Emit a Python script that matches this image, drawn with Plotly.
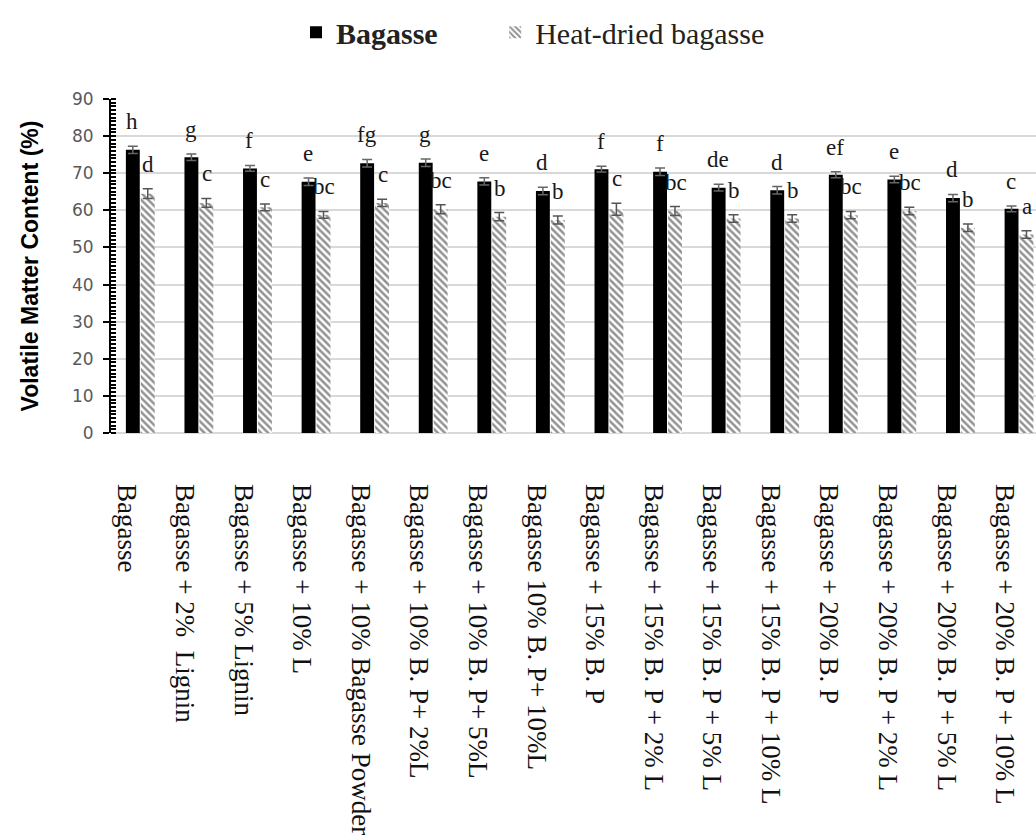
import plotly.graph_objects as go

# Treatments (x categories)
categories = [
    "Bagasse",
    "Bagasse + 2%  Lignin",
    "Bagasse + 5% Lignin",
    "Bagasse + 10% L",
    "Bagasse + 10% Bagasse Powder",
    "Bagasse + 10% B. P+ 2%L",
    "Bagasse + 10% B. P+ 5%L",
    "Bagasse 10% B. P+ 10%L",
    "Bagasse + 15% B. P",
    "Bagasse + 15% B. P + 2% L",
    "Bagasse + 15% B. P + 5% L",
    "Bagasse + 15% B. P + 10% L",
    "Bagasse + 20% B. P",
    "Bagasse + 20% B. P + 2% L",
    "Bagasse + 20% B. P + 5% L",
    "Bagasse + 20% B. P + 10% L",
]

# Volatile matter content (%) and standard errors
bagasse = [76.3, 74.3, 71.3, 67.7, 72.7, 72.8, 67.8, 65.2,
           71.1, 70.4, 66.1, 65.4, 69.6, 68.3, 63.3, 60.4]
bagasse_err = [1.0, 0.9, 0.8, 1.0, 1.0, 1.0, 1.0, 1.0,
               0.8, 1.0, 0.9, 1.0, 0.8, 0.9, 1.0, 0.8]
heat_dried = [64.5, 62.0, 60.8, 58.8, 62.0, 60.3, 58.3, 57.4,
              60.3, 59.8, 57.8, 57.8, 58.7, 59.8, 55.3, 53.5]
heat_dried_err = [1.3, 1.2, 0.9, 0.9, 1.0, 1.2, 1.1, 1.1,
                  1.6, 1.2, 1.0, 1.0, 1.0, 1.0, 1.0, 1.0]

# Significance letters
bagasse_letters = ["h", "g", "f", "e", "fg", "g", "e", "d",
                   "f", "f", "de", "d", "ef", "e", "d", "c"]
heat_dried_letters = ["d", "c", "c", "bc", "c", "bc", "b", "b",
                      "c", "bc", "b", "b", "bc", "bc", "b", "a"]

x_idx = list(range(len(categories)))
serif = "Liberation Serif, Times New Roman, serif"

fig = go.Figure()
fig.add_trace(go.Bar(
    name="<b>Bagasse</b>" + "\u00a0" * 7, x=x_idx, y=bagasse,
    marker=dict(color="#000000", line=dict(width=0)),
    error_y=dict(type="data", array=bagasse_err, color="#666666",
                 thickness=1.5, width=5),
))
fig.add_trace(go.Bar(
    name="Heat-dried bagasse", x=x_idx, y=heat_dried,
    marker=dict(color="white", line=dict(width=0),
                pattern=dict(shape="\\", fgcolor="#262626", bgcolor="white",
                             size=5, solidity=0.5)),
    error_y=dict(type="data", array=heat_dried_err, color="#555555",
                 thickness=1.5, width=5),
))

# Letters above each bar
annotations = []
for i in x_idx:
    annotations.append(dict(
        x=i, y=bagasse[i] + bagasse_err[i], xref="x", yref="y",
        text=bagasse_letters[i], showarrow=False, xshift=-8, yshift=10,
        yanchor="bottom", font=dict(family=serif, size=23, color="#1a1a1a"),
    ))
    annotations.append(dict(
        x=i, y=heat_dried[i] + heat_dried_err[i], xref="x", yref="y",
        text=heat_dried_letters[i], showarrow=False, xshift=8, yshift=10,
        yanchor="bottom", font=dict(family=serif, size=23, color="#1a1a1a"),
    ))

fig.update_layout(
    width=1036, height=840,
    margin=dict(l=111, r=0, t=99, b=407),
    paper_bgcolor="white", plot_bgcolor="white",
    barmode="group", bargap=0.49, bargroupgap=0.07,
    annotations=annotations,
    legend=dict(orientation="h", x=0.2, xanchor="left", y=1.2,
                yanchor="middle", font=dict(family=serif, size=30,
                                            color="#222222"),
                itemwidth=30),
    xaxis=dict(
        range=[-0.5, 15.29], tickmode="array", tickvals=x_idx,
        ticktext=categories, tickangle=90, showgrid=False,
        showline=False, zeroline=False, ticks="",
        ticklabelstandoff=50, ticklabelshift=-14,
        tickfont=dict(family=serif, size=27, color="#111111"),
    ),
    yaxis=dict(
        range=[0, 90], dtick=10, showgrid=True, gridcolor="#d9d9d9",
        gridwidth=1.5, zeroline=True, zerolinecolor="#d9d9d9",
        zerolinewidth=1.5, showline=True, linecolor="#000000", linewidth=2,
        ticks="outside", ticklen=6, tickwidth=2, tickcolor="#000000",
        minor=dict(dtick=1, ticks="inside", ticklen=5, tickwidth=1.5,
                   tickcolor="#000000", showgrid=False),
        ticklabelstandoff=6,
        tickfont=dict(family="DejaVu Sans, Verdana, sans-serif", size=17,
                      color="#595959"),
        title=dict(text="<b>Volatile Matter Content (%)</b>", standoff=27,
                   font=dict(family="Liberation Sans, Arial, sans-serif",
                             size=23, color="#000000")),
    ),
)

fig.write_html("out.html")
